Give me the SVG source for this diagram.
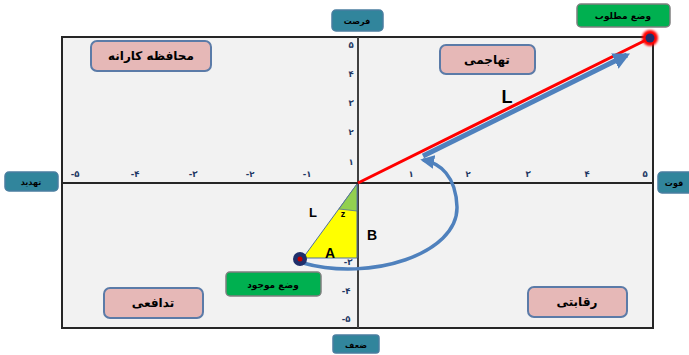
<svg xmlns="http://www.w3.org/2000/svg" width="689" height="355" viewBox="0 0 689 355">
<defs>
<style>
.ar{font-family:"DejaVu Sans",sans-serif;font-weight:bold;text-anchor:middle;fill:#000}
.q{fill:#E6B8B7;stroke:#5B7BA8;stroke-width:2}
.g{fill:#00B050;stroke:#7F7F7F;stroke-width:1.5}
.t{fill:#31859C;stroke:#4A7EA0;stroke-width:1.5}
.tk{font-family:"DejaVu Sans",sans-serif;font-weight:bold;font-size:8.5px;fill:#1F3864;text-anchor:middle}
.lt{font-family:"Liberation Sans",Arial,sans-serif;font-weight:bold;fill:#000;text-anchor:middle}
</style>
<marker id="ah" viewBox="0 0 10 10" refX="8" refY="5" markerWidth="3.4" markerHeight="3.4" orient="auto">
<path d="M0,0 L10,5 L0,10 z" fill="#4F81BD"/>
</marker>
<marker id="ah2" viewBox="0 0 10 10" refX="8" refY="5" markerWidth="4" markerHeight="4" orient="auto">
<path d="M0,0 L10,5 L0,10 z" fill="#4F81BD"/>
</marker>
<filter id="glow" x="-1" y="-1" width="3" height="3"><feGaussianBlur stdDeviation="1.2"/></filter>
</defs>
<rect width="689" height="355" fill="#fff"/>
<g id="frame">
<rect x="62" y="37" width="591" height="291" fill="#F2F2F2" stroke="#262626" stroke-width="2"/>
<line x1="358" y1="37" x2="358" y2="328" stroke="#404040" stroke-width="2"/>
<line x1="62" y1="183" x2="653" y2="183" stroke="#262626" stroke-width="2"/>
</g>
<g id="ticks">
<text class="tk" x="75" y="177">-۵</text>
<text class="tk" x="135" y="177">-۴</text>
<text class="tk" x="193" y="177">-۳</text>
<text class="tk" x="250" y="177">-۲</text>
<text class="tk" x="307" y="177">-۱</text>
<text class="tk" x="411" y="177">۱</text>
<text class="tk" x="468" y="177">۲</text>
<text class="tk" x="528" y="177">۳</text>
<text class="tk" x="587" y="177">۴</text>
<text class="tk" x="645" y="177">۵</text>
<text class="tk" x="351" y="48">۵</text>
<text class="tk" x="351" y="77">۴</text>
<text class="tk" x="351" y="106">۳</text>
<text class="tk" x="351" y="135">۲</text>
<text class="tk" x="351" y="165">۱</text>
<text class="tk" x="348" y="265">-۳</text>
<text class="tk" x="346" y="294">-۴</text>
<text class="tk" x="346" y="322">-۵</text>
</g>
<g id="triangle">
<polygon points="357,184 303,258 357,258" fill="#FFFF00" stroke="#4F6FA0" stroke-width="1"/>
<polygon points="357,184 357,211 339,209" fill="#92D050" stroke="#4F6FA0" stroke-width="0.8"/>
<text class="lt" x="313" y="217" font-size="13">L</text>
<text class="lt" x="343" y="217" font-size="9">z</text>
<text class="lt" x="330" y="258" font-size="14">A</text>
<text class="lt" x="372" y="240" font-size="14">B</text>
</g>
<g id="connectors">
<line x1="358" y1="183" x2="650" y2="38" stroke="#FF0000" stroke-width="3"/>
<line x1="423" y1="156" x2="627" y2="55" stroke="#4F81BD" stroke-width="5" marker-end="url(#ah)"/>
<path d="M303,263 C370,282 458,254 457,207 C456,176 440,163 423,160" fill="none" stroke="#4F81BD" stroke-width="3.5" marker-end="url(#ah2)"/>
</g>
<text class="lt" x="507" y="103" font-size="18">L</text>
<g id="dot-target">
<circle cx="650" cy="38" r="8" fill="#FF0000" filter="url(#glow)"/>
<circle cx="650" cy="38" r="4.5" fill="#1F2F6B"/>
</g>
<g id="dot-current">
<circle cx="300" cy="259" r="7" fill="#1F2F6B"/>
<circle cx="300" cy="259" r="2.5" fill="#C00000"/>
</g>
<g id="conservative">
<rect class="q" x="91" y="41" width="120" height="30" rx="6"/>
<text class="ar" x="151" y="60" font-size="12">محافظه کارانه</text>
</g>
<g id="aggressive">
<rect class="q" x="440" y="45" width="95" height="29" rx="6"/>
<text class="ar" x="487" y="64" font-size="12">تهاجمی</text>
</g>
<g id="defensive">
<rect class="q" x="104" y="288" width="99" height="30" rx="6"/>
<text class="ar" x="153" y="307" font-size="12">تدافعی</text>
</g>
<g id="competitive">
<rect class="q" x="528" y="287" width="99" height="30" rx="6"/>
<text class="ar" x="577" y="306" font-size="12">رقابتی</text>
</g>
<g id="desired">
<rect class="g" x="577" y="4" width="93" height="23" rx="4"/>
<text class="ar" x="623" y="19" font-size="9">وضع مطلوب</text>
</g>
<g id="current">
<rect class="g" x="226" y="272" width="95" height="24" rx="4"/>
<text class="ar" x="273" y="288" font-size="9">وضع موجود</text>
</g>
<g id="opportunity">
<rect class="t" x="332" y="10" width="51" height="21" rx="4"/>
<text class="ar" x="357" y="24" font-size="8">فرصت</text>
</g>
<g id="threat">
<rect class="t" x="5" y="172" width="53" height="19" rx="4"/>
<text class="ar" x="31" y="185" font-size="8">تهدید</text>
</g>
<g id="strength">
<rect class="t" x="658" y="172" width="50" height="21" rx="4"/>
<text class="ar" x="674" y="186" font-size="8">قوت</text>
</g>
<g id="weakness">
<rect class="t" x="333" y="335" width="46" height="18" rx="3"/>
<text class="ar" x="356" y="348" font-size="8">ضعف</text>
</g>
</svg>
